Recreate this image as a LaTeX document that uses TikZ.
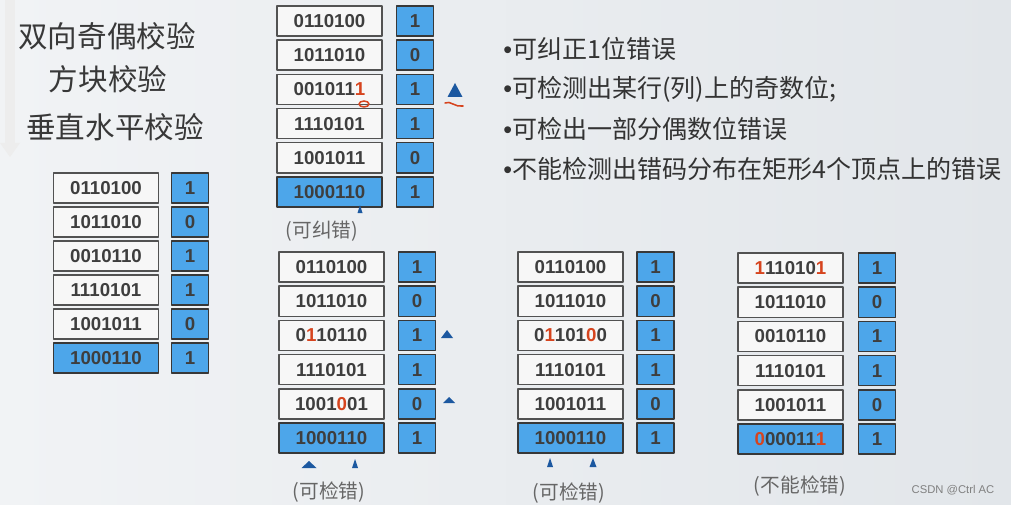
\documentclass[tikz,border=0pt]{standalone}
\usepackage{fontspec}
\setmainfont{Liberation Sans}
\newfontfamily\cjk{Noto Sans CJK SC}
\definecolor{boxblue}{RGB}{77,166,234}
\definecolor{digitgray}{RGB}{62,62,62}
\definecolor{errred}{RGB}{214,68,30}
\definecolor{triblue}{RGB}{28,88,160}
\definecolor{bgleft}{RGB}{241,243,245}
\definecolor{bgright}{RGB}{226,230,234}
\newcommand{\errbit}[1]{\textcolor{errred}{#1}}

\begin{document}
\begin{tikzpicture}[x=0.025cm, y=-0.025cm, line join=round, line cap=round,
	font=\bfseries\fontsize{13.3}{13.3}\selectfont,
	databox/.style={draw=black!68, fill=black!3, line width=1pt, minimum width=2.62cm, minimum height=0.75cm, inner sep=0pt, text=digitgray},
	sumbox/.style={databox, draw=black!78, fill=boxblue},
	paritybox/.style={databox, draw=black!78, fill=boxblue, minimum width=0.92cm},
	title/.style={font=\cjk\fontsize{21}{21}\selectfont, text=black!78},
	bullet/.style={font=\cjk\fontsize{17.8}{17.8}\selectfont, text=black!80, anchor=west, inner sep=0pt},
	note/.style={font=\cjk\fontsize{14}{14}\selectfont, text=black!60}]
	\useasboundingbox (0,0) rectangle (1011,505);
	\shade[left color=bgleft, right color=bgright] (0,0) rectangle (1011,505);
	% faint arrow of the slide
	\fill[black!7] (5,0) rectangle (15,145);
	\fill[black!7] (0,143) -- (20,143) -- (10,157) -- cycle;
	
	\node[title] (t1) at (107,36) {双向奇偶校验};
	\node[title] (t2) at (108,79) {方块校验};
	\node[title] (t3) at (115,127) {垂直水平校验};
	
	\foreach \txt [count=\i] in {可纠正1位错误,可检测出某行(列)上的奇数位;,可检出一部分偶数位错误,不能检测出错码分布在矩形4个顶点上的错误}
	\node[bullet] (b\i) at (503,{49+40*(\i-1)}) {{\rmfamily •}\txt};
	
	% table 1
	\foreach \bits/\p [count=\i] in {0110100/1,1011010/0,0010110/1,1110101/1,1001011/0}{
		\node[databox] (a\i) at (106,{188+34*(\i-1)}) {\bits};
		\node[paritybox] (ap\i) at (190,{188+34*(\i-1)}) {\p};}
	\node[sumbox] (a6) at (106,358) {1000110};
	\node[paritybox] (ap6) at (190,358) {1};
	
	% table 2
	\foreach \bits/\p [count=\i] in {0110100/1,1011010/0,{001011\errbit{1}}/1,1110101/1,1001011/0}{
		\node[databox] (c\i) at (329.5,{21+34.2*(\i-1)}) {\bits};
		\node[paritybox] (cp\i) at (415,{21+34.2*(\i-1)}) {\p};}
	\node[sumbox] (c6) at (329.5,192) {1000110};
	\node[paritybox] (cp6) at (415,192) {1};
	\node[note] (c7) at (322,231) {(可纠错)};
	\draw[errred, line width=1.1pt] (364,104) ellipse (5 and 3);
	\draw[errred, line width=1.1pt] (445,103) .. controls (450,100) and (456,108) .. (463,106);
	
	% table 3
	\foreach \bits/\p [count=\i] in {0110100/1,1011010/0,{0\errbit{1}10110}/1,1110101/1,{1001\errbit{0}01}/0}{
		\node[databox] (d\i) at (331.5,{267+34.2*(\i-1)}) {\bits};
		\node[paritybox] (dp\i) at (417,{267+34.2*(\i-1)}) {\p};}
	\node[sumbox] (d6) at (331.5,438) {1000110};
	\node[paritybox] (dp6) at (417,438) {1};
	\node[note] (d7) at (329,492) {(可检错)};
	
	% table 4
	\foreach \bits/\p [count=\i] in {0110100/1,1011010/0,{0\errbit{1}101\errbit{0}0}/1,1110101/1,1001011/0}{
		\node[databox] (e\i) at (570.5,{267+34.2*(\i-1)}) {\bits};
		\node[paritybox] (ep\i) at (655.5,{267+34.2*(\i-1)}) {\p};}
	\node[sumbox] (e6) at (570.5,438) {1000110};
	\node[paritybox] (ep6) at (655.5,438) {1};
	\node[note] (e7) at (569,493) {(可检错)};
	
	% table 5
	\foreach \bits/\p [count=\i] in {{\errbit{1}11010\errbit{1}}/1,1011010/0,0010110/1,1110101/1,1001011/0}{
		\node[databox] (f\i) at (790.5,{268+34.2*(\i-1)}) {\bits};
		\node[paritybox] (fp\i) at (877,{268+34.2*(\i-1)}) {\p};}
	\node[sumbox] (f6) at (790.5,439) {\errbit{0}00011\errbit{1}};
	\node[paritybox] (fp6) at (877,439) {1};
	\node[note] (f7) at (800,486) {(不能检错)};
	
	% error marks
	\foreach \x/\y/\w/\h in {455/97/15/14,360/213/5/8,447/338/12/8,449/403/12/6,309/468/15/7,355/468/6/9,550/467/6/9,593/467/7/9}
	\fill[triblue] ({\x-\w/2},\y) -- ({\x+\w/2},\y) -- (\x,\y-\h) -- cycle;
	
	\node[font=\fontsize{8}{8}\selectfont, text=black!50] (wm) at (953,490) {CSDN @Ctrl AC};
\end{tikzpicture}
\end{document}
